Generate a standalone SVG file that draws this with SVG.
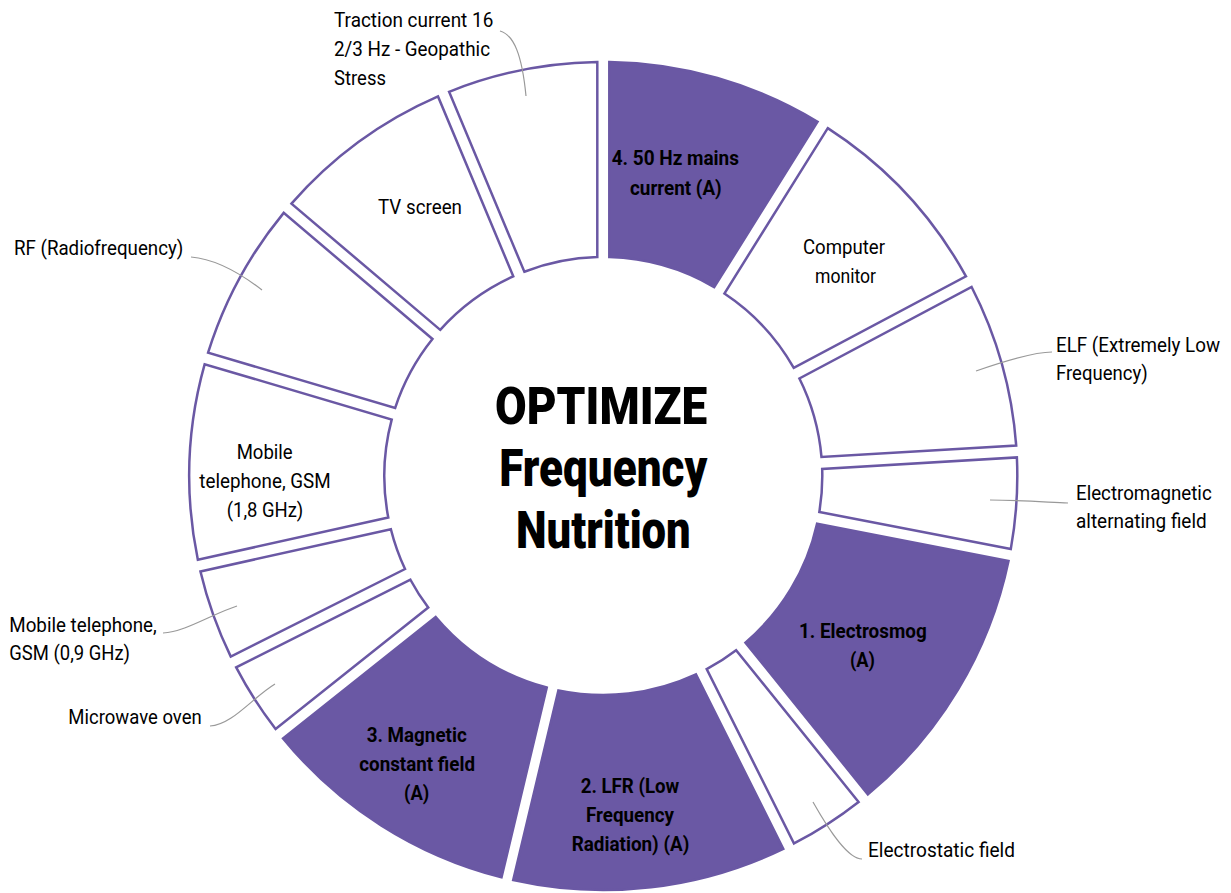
<svg xmlns="http://www.w3.org/2000/svg" width="1231" height="893" viewBox="0 0 1231 893">
<style>
.seg{stroke:#6a58a4;stroke-width:2.5;stroke-linejoin:miter}
.on{fill:#6a58a4}
.off{fill:#fff}
.lbl{font-family:Roboto,"Liberation Sans",sans-serif;font-size:21px;fill:#000}
.bld{font-family:Roboto,"Liberation Sans",sans-serif;font-size:21px;font-weight:bold;fill:#000}
.ttl{font-family:Roboto,"Liberation Sans",sans-serif;font-size:51px;font-weight:900;fill:#000}
.lead{fill:none;stroke:#999;stroke-width:1.2}
</style>
<rect width="1231" height="893" fill="#fff"/>
<g id="n-50hz">
<path class="seg on" transform="translate(603.3,476) rotate(0)" d="M6,-413.96 A414,414 0 0 1 214.28,-354.24 L110.92,-188.84 A219,219 0 0 0 6,-218.92 Z"/>
<text class="bld" x="611.7" y="165" textLength="127.3" lengthAdjust="spacingAndGlyphs">4. 50 Hz mains</text>
<text class="bld" x="630" y="195" textLength="91.7" lengthAdjust="spacingAndGlyphs">current (A)</text>
</g>
<g id="n-monitor">
<path class="seg off" transform="translate(603.3,476) rotate(32)" d="M6,-413.96 A414,414 0 0 1 201.78,-361.5 L104.26,-192.59 A219,219 0 0 0 6,-218.92 Z"/>
<text class="lbl" x="803" y="254" textLength="82" lengthAdjust="spacingAndGlyphs">Computer</text>
<text class="lbl" x="815" y="283" textLength="61" lengthAdjust="spacingAndGlyphs">monitor</text>
</g>
<g id="n-elf">
<path class="seg off" transform="translate(603.3,476) rotate(62)" d="M6,-413.96 A414,414 0 0 1 166.87,-378.89 L85.68,-201.55 A219,219 0 0 0 6,-218.92 Z"/>
<text class="lbl" x="1056" y="351.7" textLength="164" lengthAdjust="spacingAndGlyphs">ELF (Extremely Low</text>
<text class="lbl" x="1056" y="380" textLength="91.6" lengthAdjust="spacingAndGlyphs">Frequency)</text>
</g>
<g id="n-emaf">
<path class="seg off" transform="translate(603.3,476) rotate(86.6)" d="M6,-413.96 A414,414 0 0 1 97.14,-402.44 L48.63,-213.53 A219,219 0 0 0 6,-218.92 Z"/>
<text class="lbl" x="1076" y="500" textLength="135.7" lengthAdjust="spacingAndGlyphs">Electromagnetic</text>
<text class="lbl" x="1076" y="528.3" textLength="130.7" lengthAdjust="spacingAndGlyphs">alternating field</text>
</g>
<g id="n-electrosmog">
<path class="seg on" transform="translate(603.3,476) rotate(101)" d="M6,-413.96 A414,414 0 0 1 262.05,-320.51 L136.42,-171.32 A219,219 0 0 0 6,-218.92 Z"/>
<text class="bld" x="799" y="638.3" textLength="127.7" lengthAdjust="spacingAndGlyphs">1. Electrosmog</text>
<text class="bld" x="850" y="667" textLength="25" lengthAdjust="spacingAndGlyphs">(A)</text>
</g>
<g id="n-electrostatic">
<path class="seg off" transform="translate(603.3,476) rotate(141.1)" d="M6,-413.96 A414,414 0 0 1 82.33,-405.74 L40.78,-215.18 A219,219 0 0 0 6,-218.92 Z"/>
<text class="lbl" x="868" y="857.3" textLength="147" lengthAdjust="spacingAndGlyphs">Electrostatic field</text>
</g>
<g id="n-lfr">
<path class="seg on" transform="translate(603.3,476) rotate(153.4)" d="M6,-413.96 A414,414 0 0 1 261.49,-320.97 L136.12,-171.56 A219,219 0 0 0 6,-218.92 Z"/>
<text class="bld" x="580.7" y="792.7" textLength="98.6" lengthAdjust="spacingAndGlyphs">2. LFR (Low</text>
<text class="bld" x="586" y="821.7" textLength="88" lengthAdjust="spacingAndGlyphs">Frequency</text>
<text class="bld" x="571.7" y="850.7" textLength="117.6" lengthAdjust="spacingAndGlyphs">Radiation) (A)</text>
</g>
<g id="n-magnetic">
<path class="seg on" transform="translate(603.3,476) rotate(193.4)" d="M6,-413.96 A414,414 0 0 1 250.71,-329.46 L130.36,-175.98 A219,219 0 0 0 6,-218.92 Z"/>
<text class="bld" x="366.7" y="741.7" textLength="100" lengthAdjust="spacingAndGlyphs">3. Magnetic</text>
<text class="bld" x="359.3" y="770.7" textLength="115.7" lengthAdjust="spacingAndGlyphs">constant field</text>
<text class="bld" x="404" y="799.5" textLength="25.3" lengthAdjust="spacingAndGlyphs">(A)</text>
</g>
<g id="n-microwave">
<path class="seg off" transform="translate(603.3,476) rotate(231.5)" d="M6,-413.96 A414,414 0 0 1 78.79,-406.44 L38.9,-215.52 A219,219 0 0 0 6,-218.92 Z"/>
<text class="lbl" x="68.3" y="724" textLength="133.4" lengthAdjust="spacingAndGlyphs">Microwave oven</text>
</g>
<g id="n-gsm09">
<path class="seg off" transform="translate(603.3,476) rotate(243.3)" d="M6,-413.96 A414,414 0 0 1 95.73,-402.78 L47.88,-213.7 A219,219 0 0 0 6,-218.92 Z"/>
<text class="lbl" x="9.3" y="631.7" textLength="147.4" lengthAdjust="spacingAndGlyphs">Mobile telephone,</text>
<text class="lbl" x="9.3" y="660" textLength="120.7" lengthAdjust="spacingAndGlyphs">GSM (0,9 GHz)</text>
</g>
<g id="n-gsm18">
<path class="seg off" transform="translate(603.3,476) rotate(257.5)" d="M6,-413.96 A414,414 0 0 1 195.44,-364.97 L100.88,-194.38 A219,219 0 0 0 6,-218.92 Z"/>
<text class="lbl" x="236.7" y="459.3" textLength="56" lengthAdjust="spacingAndGlyphs">Mobile</text>
<text class="lbl" x="199.3" y="488.3" textLength="131.4" lengthAdjust="spacingAndGlyphs">telephone, GSM</text>
<text class="lbl" x="226.7" y="517" textLength="76.6" lengthAdjust="spacingAndGlyphs">(1,8 GHz)</text>
</g>
<g id="n-rf">
<path class="seg off" transform="translate(603.3,476) rotate(286.5)" d="M6,-413.96 A414,414 0 0 1 161.56,-381.18 L82.86,-202.72 A219,219 0 0 0 6,-218.92 Z"/>
<text class="lbl" x="14" y="254.5" textLength="169.3" lengthAdjust="spacingAndGlyphs">RF (Radiofrequency)</text>
</g>
<g id="n-tv">
<path class="seg off" transform="translate(603.3,476) rotate(310.3)" d="M6,-413.96 A414,414 0 0 1 182.58,-371.56 L94.04,-197.78 A219,219 0 0 0 6,-218.92 Z"/>
<text class="lbl" x="378" y="214" textLength="84" lengthAdjust="spacingAndGlyphs">TV screen</text>
</g>
<g id="n-traction">
<path class="seg off" transform="translate(603.3,476) rotate(337.3)" d="M6,-413.96 A414,414 0 0 1 154.22,-384.21 L78.95,-204.28 A219,219 0 0 0 6,-218.92 Z"/>
<text class="lbl" x="334" y="27" textLength="159.3" lengthAdjust="spacingAndGlyphs">Traction current 16</text>
<text class="lbl" x="334" y="56" textLength="156" lengthAdjust="spacingAndGlyphs">2/3 Hz - Geopathic</text>
<text class="lbl" x="334" y="85" textLength="52" lengthAdjust="spacingAndGlyphs">Stress</text>
</g>
<g id="n-center">
<text class="ttl" x="495" y="424" textLength="212.3" lengthAdjust="spacingAndGlyphs">OPTIMIZE</text>
<text class="ttl" x="499.3" y="486" textLength="208" lengthAdjust="spacingAndGlyphs">Frequency</text>
<text class="ttl" x="516" y="548" textLength="174.7" lengthAdjust="spacingAndGlyphs">Nutrition</text>
</g>
<g id="connectors">
<path class="lead" d="M500,31 C514,35 522,55 526,96"/>
<path class="lead" d="M191,257 C215,259 240,273 262,290"/>
<path class="lead" d="M1052,352 C1035,352 1005,361 976,371"/>
<path class="lead" d="M1068,503 C1045,502 1015,500 990,500"/>
<path class="lead" d="M862,859 C848,859 830,832 813,802"/>
<path class="lead" d="M163,633 C185,632 212,614 237,606"/>
<path class="lead" d="M210,726 C232,725 252,698 275,684"/>
</g>
</svg>
